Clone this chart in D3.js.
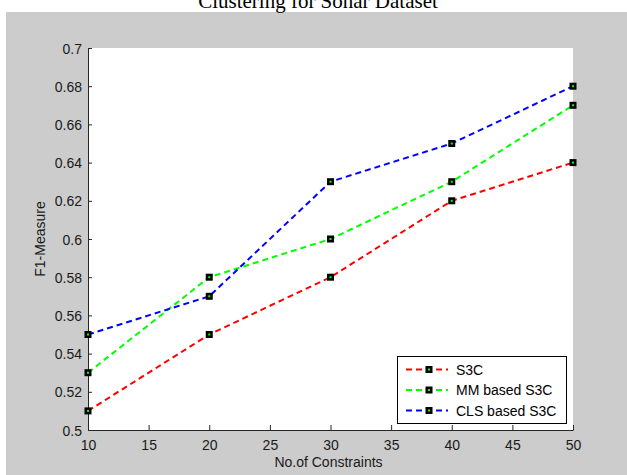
<!DOCTYPE html>
<html>
<head>
<meta charset="utf-8">
<script src="https://cdn.jsdelivr.net/npm/d3@7"></script>
<style>
  body { margin: 0; background: #fff; }
  svg { display: block; }
  text { font-family: "Liberation Sans", Arial, sans-serif; }
</style>
</head>
<body>
<div id="chart"></div>
<script>
// values
var constraints = [10, 20, 30, 40, 50];
var s3c = [0.51, 0.55, 0.58, 0.62, 0.64];
var mmS3c = [0.53, 0.58, 0.60, 0.63, 0.67];
var clsS3c = [0.55, 0.57, 0.63, 0.65, 0.68];
var seriesNames = ["S3C", "MM based S3C", "CLS based S3C"];
var seriesColors = ["#ff0000", "#00ff00", "#0000ff"];
var xTicks = [10, 15, 20, 25, 30, 35, 40, 45, 50];
var yTicks = [0.5, 0.52, 0.54, 0.56, 0.58, 0.6, 0.62, 0.64, 0.66, 0.68, 0.7];

var W = 627, H = 475;
var margin = {top: 48, right: 54, bottom: 45, left: 88},
    width = W - margin.left - margin.right,
    height = H - margin.top - margin.bottom;

var svg = d3.select("#chart").append("svg")
    .attr("width", W)
    .attr("height", H);

// grey figure background, cut off at the top like the original
svg.append("rect")
    .attr("x", 6).attr("y", 12)
    .attr("width", W - 6).attr("height", H - 12)
    .attr("fill", "#cccccc");

svg.append("text")
    .attr("x", 318).attr("y", 8)
    .attr("text-anchor", "middle")
    .style("font-family", "'Liberation Serif', 'Times New Roman', serif")
    .style("font-size", "21px")
    .text("Clustering for Sonar Dataset");

var g = svg.append("g")
    .attr("transform", "translate(" + margin.left + "," + margin.top + ")");

g.append("rect")
    .attr("width", width).attr("height", height)
    .attr("fill", "#fff");

var xScale = d3.scaleLinear().domain([10, 50]).range([0, width]);
var yScale = d3.scaleLinear().domain([0.5, 0.7]).range([height, 0]);

var xAxis = g.append("g")
    .attr("transform", "translate(0," + height + ")")
    .call(d3.axisBottom(xScale).tickValues(xTicks).tickSizeInner(-5).tickSizeOuter(0).tickPadding(10)
        .tickFormat(d3.format("d")));
var yAxis = g.append("g")
    .call(d3.axisLeft(yScale).tickValues(yTicks).tickSizeInner(-4).tickSizeOuter(0).tickPadding(6)
        .tickFormat(function(d) { return String(+d.toFixed(2)); }));

[xAxis, yAxis].forEach(function(ax) {
    ax.select(".domain").attr("stroke", "#262626");
    ax.selectAll(".tick line").attr("stroke", "#262626");
    ax.selectAll(".tick text")
        .attr("fill", "#1a1a1a")
        .style("font-family", "'Liberation Sans', Arial, sans-serif")
        .style("font-size", "14px");
});
yAxis.selectAll(".tick text").attr("dy", "0.36em");

g.append("text")
    .attr("x", width / 2 - 2).attr("y", height + 37)
    .attr("text-anchor", "middle")
    .attr("fill", "#1a1a1a")
    .style("font-size", "14px")
    .text("No.of Constraints");

g.append("text")
    .attr("transform", "translate(-43," + (height / 2) + ") rotate(-90)")
    .attr("text-anchor", "middle")
    .attr("fill", "#1a1a1a")
    .style("font-size", "14px")
    .text("F1-Measure");

var allSeries = [s3c, mmS3c, clsS3c].map(function(vals, i) {
    return {
        name: seriesNames[i],
        color: seriesColors[i],
        points: vals.map(function(v, j) { return {x: constraints[j], y: v}; })
    };
});

var line = d3.line()
    .x(function(d) { return xScale(d.x); })
    .y(function(d) { return yScale(d.y); });

function marker(sel) {
    sel.append("rect")
        .attr("x", -3.5).attr("y", -3.5)
        .attr("width", 7).attr("height", 7)
        .attr("fill", "#000");
    sel.append("rect")
        .attr("x", -1).attr("y", -1)
        .attr("width", 2).attr("height", 2)
        .attr("fill", "#00ff00");
}

allSeries.forEach(function(s) {
    g.append("path")
        .datum(s.points)
        .attr("fill", "none")
        .attr("stroke", s.color)
        .attr("stroke-width", 2)
        .attr("stroke-dasharray", "6,4")
        .attr("d", line);
    g.selectAll(null)
        .data(s.points)
        .enter().append("g")
        .attr("transform", function(d) {
            return "translate(" + xScale(d.x) + "," + yScale(d.y) + ")";
        })
        .call(marker);
});

// legend
var legend = svg.append("g").attr("transform", "translate(397,356)");
legend.append("rect")
    .attr("x", 0.5).attr("y", 0.5)
    .attr("width", 169).attr("height", 67)
    .attr("fill", "#fff")
    .attr("stroke", "#000");

var items = legend.selectAll(".item")
    .data(allSeries)
    .enter().append("g")
    .attr("class", "item")
    .attr("transform", function(d, i) { return "translate(0," + (13.5 + i * 20.5) + ")"; });
items.append("line")
    .attr("x1", 9).attr("x2", 51)
    .attr("stroke", function(d) { return d.color; })
    .attr("stroke-width", 2)
    .attr("stroke-dasharray", "6,4");
items.append("g")
    .attr("transform", "translate(32,0)")
    .call(marker);
items.append("text")
    .attr("x", 59).attr("dy", "0.36em")
    .attr("fill", "#000")
    .style("font-size", "14px")
    .text(function(d) { return d.name; });
</script>
</body>
</html>
